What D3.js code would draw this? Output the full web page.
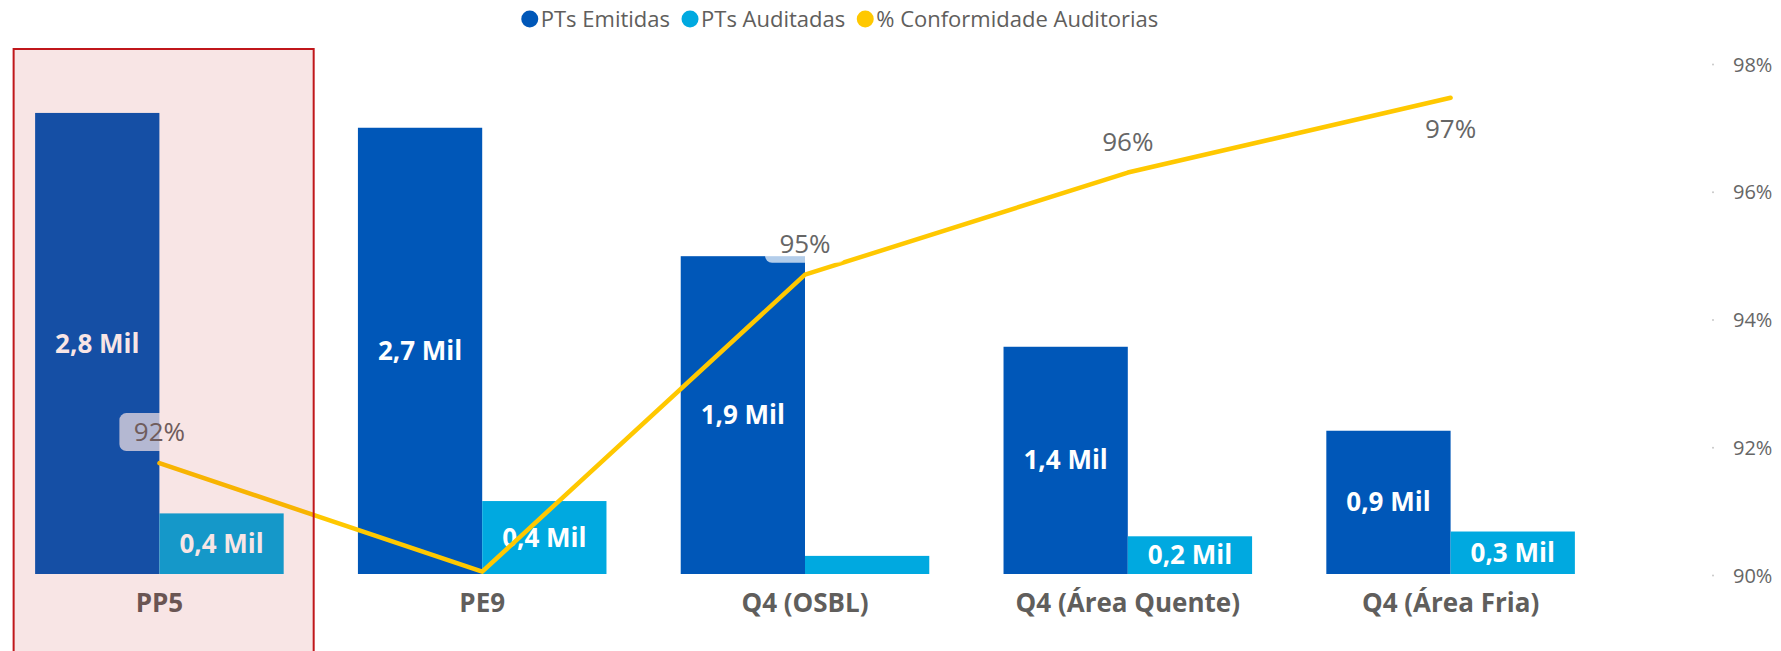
<!DOCTYPE html>
<html>
<head>
<meta charset="utf-8">
<script src="https://cdn.jsdelivr.net/npm/d3@7"></script>
<style>
  html, body { margin: 0; padding: 0; background: #fff; }
  svg { display: block; font-family: "Open Sans", "Noto Sans", sans-serif; }
</style>
</head>
<body>
<div id="chart"></div>
<script>
// chart data
const categories = ['PP5', 'PE9', 'Q4 (OSBL)', 'Q4 (Área Quente)', 'Q4 (Área Fria)'];
const ptsEmitidas = [2800, 2710, 1930, 1380, 870];
const ptsAuditadas = [368, 443, 110, 229, 258];
const conformidade = [91.76, 90.06, 94.71, 96.31, 97.48];
const rightTicks = [90, 92, 94, 96, 98];
const selectedCategory = 'PP5';

const seriesNames = ['PTs Emitidas', 'PTs Auditadas', '% Conformidade Auditorias'];
const colors = ['#0057b8', '#00a9e0', '#ffc800'];

const width = 1781, height = 651;
const baseY = 574;

const svg = d3.select('#chart').append('svg')
    .attr('width', width)
    .attr('height', height);

const x0 = d3.scaleBand()
    .domain(categories)
    .range([-2, 1612])
    .paddingInner(0.23)
    .paddingOuter(0.115);

const x1 = d3.scaleBand()
    .domain(['emitidas', 'auditadas'])
    .range([0, x0.bandwidth()]);

const yLeft = d3.scaleLinear()
    .domain([0, 3000])
    .range([baseY, 80]);

const yRight = d3.scaleLinear()
    .domain([90, 98])
    .range([575.5, 64.6]);

const fmtMil = v => d3.format('.1f')(v / 1000).replace('.', ',') + ' Mil';

const rows = categories.map((c, i) => ({
    cat: c,
    bars: [
        { key: 'emitidas', val: ptsEmitidas[i], color: colors[0] },
        { key: 'auditadas', val: ptsAuditadas[i], color: colors[1] }
    ],
    pct: conformidade[i]
}));

// legend
const legend = svg.append('g').attr('class', 'legend');
let lx = 0;
seriesNames.forEach((name, i) => {
    const item = legend.append('g').attr('transform', `translate(${lx},0)`);
    item.append('circle').attr('cx', 8).attr('cy', 0).attr('r', 8.5).attr('fill', colors[i]);
    const t = item.append('text')
        .attr('x', 19).attr('y', 0).attr('dy', '0.35em')
        .attr('font-size', 22)
        .attr('fill', '#605e5c')
        .text(name);
    lx += 19 + t.node().getComputedTextLength() + 12;
});
legend.attr('transform', `translate(${840 - (lx - 12) / 2},19)`);

// right axis
const axisR = svg.append('g').attr('class', 'y axis right');
axisR.selectAll('circle')
    .data(rightTicks)
    .enter().append('circle')
    .attr('cx', 1713)
    .attr('cy', d => yRight(d))
    .attr('r', 1)
    .attr('fill', '#c8c8c8');
axisR.selectAll('text')
    .data(rightTicks)
    .enter().append('text')
    .attr('x', 1733)
    .attr('y', d => yRight(d))
    .attr('dy', '0.35em')
    .attr('font-size', 20)
    .attr('fill', '#666')
    .text(d => d + '%');

// bars
const groups = svg.selectAll('g.group')
    .data(rows)
    .enter().append('g')
    .attr('class', 'group')
    .attr('transform', d => `translate(${x0(d.cat)},0)`);

groups.selectAll('rect')
    .data(d => d.bars)
    .enter().append('rect')
    .attr('x', d => x1(d.key))
    .attr('y', d => yLeft(d.val))
    .attr('width', x1.bandwidth())
    .attr('height', d => baseY - yLeft(d.val))
    .attr('fill', d => d.color);

// bar labels
const barLabelBoxes = [];
groups.each(function (d) {
    const g = d3.select(this);
    d.bars.forEach(b => {
        const h = baseY - yLeft(b.val);
        if (h < 30) return;
        const cx = x1(b.key) + x1.bandwidth() / 2;
        const cy = yLeft(b.val) + h / 2;
        g.append('text')
            .attr('x', cx)
            .attr('y', cy)
            .attr('dy', '0.35em')
            .attr('text-anchor', 'middle')
            .attr('font-size', 26)
            .attr('font-weight', 700)
            .attr('fill', '#fff')
            .text(fmtMil(b.val));
        const ax = x0(d.cat) + cx;
        barLabelBoxes.push({ x0: ax - 45, x1: ax + 45, y0: cy - 16, y1: cy + 16 });
    });
});

// category labels
svg.selectAll('text.cat')
    .data(categories)
    .enter().append('text')
    .attr('class', 'cat')
    .attr('x', d => x0(d) + x0.bandwidth() / 2)
    .attr('y', 612)
    .attr('text-anchor', 'middle')
    .attr('font-size', 26)
    .attr('font-weight', 700)
    .attr('fill', '#605e5c')
    .text(d => d);

// line
const cxOf = d => x0(d.cat) + x0.bandwidth() / 2;
const line = d3.line()
    .x(cxOf)
    .y(d => yRight(d.pct));

svg.append('path')
    .datum(rows)
    .attr('d', line)
    .attr('fill', 'none')
    .attr('stroke', colors[2])
    .attr('stroke-width', 4.5)
    .attr('stroke-linejoin', 'round')
    .attr('stroke-linecap', 'round');

// line labels
rows.forEach(d => {
    const px = cxOf(d);
    const py = yRight(d.pct);
    const ly = py - 31 < 115 ? py + 31 : py - 31;
    const box = { x0: px - 40, x1: px + 40, y0: ly - 19, y1: ly + 19 };
    const hit = barLabelBoxes.some(b => b.x0 < box.x1 && b.x1 > box.x0 && b.y0 < box.y1 && b.y1 > box.y0);
    if (hit) return;
    const lg = svg.append('g');
    lg.append('rect')
        .attr('x', box.x0)
        .attr('y', box.y0)
        .attr('width', box.x1 - box.x0)
        .attr('height', box.y1 - box.y0)
        .attr('rx', 7)
        .attr('fill', '#fff')
        .attr('fill-opacity', 0.7);
    lg.append('text')
        .attr('x', px)
        .attr('y', ly)
        .attr('dy', '0.35em')
        .attr('text-anchor', 'middle')
        .attr('font-size', 26)
        .attr('fill', '#666')
        .text(Math.round(d.pct) + '%');
});

// selection highlight, drawn over the selected group
const sx = x0(selectedCategory);
svg.append('rect')
    .attr('x', sx - 21.5)
    .attr('y', 49)
    .attr('width', x0.bandwidth() + 51.5)
    .attr('height', 620)
    .attr('fill', 'rgb(190,20,20)')
    .attr('fill-opacity', 0.11)
    .attr('stroke', '#c0171b')
    .attr('stroke-width', 2);
</script>
</body>
</html>
